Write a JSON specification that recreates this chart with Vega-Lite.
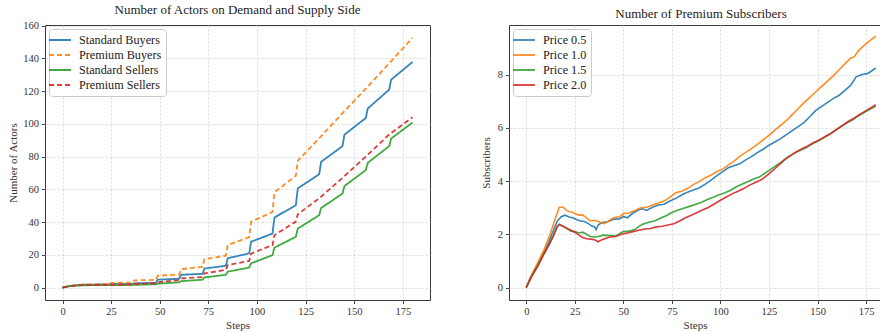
{
  "$schema": "https://vega.github.io/schema/vega-lite/v6.json",
  "padding": {"left": 7, "top": 3, "right": 0, "bottom": 0},
  "spacing": 48,
  "config": {
    "font": "Liberation Serif",
    "view": {"stroke": "#3a3a3a", "strokeWidth": 1},
    "title": {"font": "Liberation Serif", "fontSize": 13, "fontWeight": "normal", "color": "#222", "offset": 0},
    "axis": {
      "labelFont": "Liberation Serif", "labelFontSize": 10.5, "labelColor": "#333",
      "titleFont": "Liberation Serif", "titleFontSize": 11, "titleFontWeight": "normal", "titleColor": "#333",
      "domain": false, "tickColor": "#444", "tickSize": 3.5, "labelPadding": 3,
      "gridColor": "#cfcfcf", "gridDash": [2, 2], "gridWidth": 0.8
    },
    "legend": {
      "orient": "top-left", "offset": 4, "padding": 4, "strokeColor": "#cccccc", "fillColor": "white",
      "cornerRadius": 3, "symbolType": "M-1.83,0H1.83", "symbolSize": 144, "symbolStrokeWidth": 1.8,
      "labelFont": "Liberation Serif", "labelFontSize": 12.2,
      "labelColor": "#222", "rowPadding": 1, "title": null, "labelOffset": 12
    }
  },
  "datasets": {
    "actors": [
      {"series": "Standard Buyers", "step": 0, "value": 0},
      {"series": "Standard Buyers", "step": 3, "value": 0.8},
      {"series": "Standard Buyers", "step": 6, "value": 1.3},
      {"series": "Standard Buyers", "step": 10, "value": 1.7},
      {"series": "Standard Buyers", "step": 24, "value": 2.0},
      {"series": "Standard Buyers", "step": 25, "value": 2.2},
      {"series": "Standard Buyers", "step": 36, "value": 2.3},
      {"series": "Standard Buyers", "step": 37, "value": 2.6},
      {"series": "Standard Buyers", "step": 48, "value": 2.9},
      {"series": "Standard Buyers", "step": 49, "value": 4.8},
      {"series": "Standard Buyers", "step": 60, "value": 5.4},
      {"series": "Standard Buyers", "step": 61, "value": 7.8},
      {"series": "Standard Buyers", "step": 72, "value": 8.4},
      {"series": "Standard Buyers", "step": 73, "value": 11.6},
      {"series": "Standard Buyers", "step": 84, "value": 13.3},
      {"series": "Standard Buyers", "step": 85, "value": 17.9},
      {"series": "Standard Buyers", "step": 96, "value": 20.9},
      {"series": "Standard Buyers", "step": 97, "value": 28},
      {"series": "Standard Buyers", "step": 108, "value": 33},
      {"series": "Standard Buyers", "step": 109, "value": 42.8},
      {"series": "Standard Buyers", "step": 120, "value": 50.3},
      {"series": "Standard Buyers", "step": 121, "value": 60.6},
      {"series": "Standard Buyers", "step": 132, "value": 69.2},
      {"series": "Standard Buyers", "step": 133, "value": 76.8},
      {"series": "Standard Buyers", "step": 144, "value": 86.4},
      {"series": "Standard Buyers", "step": 145, "value": 93.4},
      {"series": "Standard Buyers", "step": 156, "value": 103.6},
      {"series": "Standard Buyers", "step": 157, "value": 109.4},
      {"series": "Standard Buyers", "step": 168, "value": 120.9},
      {"series": "Standard Buyers", "step": 169, "value": 127},
      {"series": "Standard Buyers", "step": 180, "value": 137.8},
      {"series": "Premium Buyers", "step": 0, "value": 0},
      {"series": "Premium Buyers", "step": 3, "value": 0.8},
      {"series": "Premium Buyers", "step": 6, "value": 1.3},
      {"series": "Premium Buyers", "step": 10, "value": 1.8},
      {"series": "Premium Buyers", "step": 24, "value": 2.1},
      {"series": "Premium Buyers", "step": 25, "value": 2.9},
      {"series": "Premium Buyers", "step": 36, "value": 3.0},
      {"series": "Premium Buyers", "step": 37, "value": 4.4},
      {"series": "Premium Buyers", "step": 48, "value": 4.7},
      {"series": "Premium Buyers", "step": 49, "value": 7.3},
      {"series": "Premium Buyers", "step": 60, "value": 7.8},
      {"series": "Premium Buyers", "step": 61, "value": 11.3},
      {"series": "Premium Buyers", "step": 72, "value": 12.6},
      {"series": "Premium Buyers", "step": 73, "value": 17.4},
      {"series": "Premium Buyers", "step": 84, "value": 19.5},
      {"series": "Premium Buyers", "step": 85, "value": 26},
      {"series": "Premium Buyers", "step": 96, "value": 30.8},
      {"series": "Premium Buyers", "step": 97, "value": 40.2},
      {"series": "Premium Buyers", "step": 108, "value": 46.2},
      {"series": "Premium Buyers", "step": 109, "value": 58.2},
      {"series": "Premium Buyers", "step": 120, "value": 68.3},
      {"series": "Premium Buyers", "step": 121, "value": 77.5},
      {"series": "Premium Buyers", "step": 132, "value": 91.2},
      {"series": "Premium Buyers", "step": 144, "value": 106.5},
      {"series": "Premium Buyers", "step": 156, "value": 121.5},
      {"series": "Premium Buyers", "step": 168, "value": 137},
      {"series": "Premium Buyers", "step": 180, "value": 152.5},
      {"series": "Standard Sellers", "step": 0, "value": 0},
      {"series": "Standard Sellers", "step": 3, "value": 0.7},
      {"series": "Standard Sellers", "step": 6, "value": 1.1},
      {"series": "Standard Sellers", "step": 10, "value": 1.4},
      {"series": "Standard Sellers", "step": 36, "value": 1.6},
      {"series": "Standard Sellers", "step": 48, "value": 2.0},
      {"series": "Standard Sellers", "step": 49, "value": 2.4},
      {"series": "Standard Sellers", "step": 60, "value": 3.2},
      {"series": "Standard Sellers", "step": 61, "value": 3.9},
      {"series": "Standard Sellers", "step": 72, "value": 4.8},
      {"series": "Standard Sellers", "step": 73, "value": 6.2},
      {"series": "Standard Sellers", "step": 84, "value": 7.8},
      {"series": "Standard Sellers", "step": 85, "value": 9.7},
      {"series": "Standard Sellers", "step": 96, "value": 12.2},
      {"series": "Standard Sellers", "step": 97, "value": 14.8},
      {"series": "Standard Sellers", "step": 108, "value": 19.8},
      {"series": "Standard Sellers", "step": 109, "value": 24.4},
      {"series": "Standard Sellers", "step": 120, "value": 31},
      {"series": "Standard Sellers", "step": 121, "value": 36},
      {"series": "Standard Sellers", "step": 132, "value": 44.2},
      {"series": "Standard Sellers", "step": 133, "value": 48.6},
      {"series": "Standard Sellers", "step": 144, "value": 57.4},
      {"series": "Standard Sellers", "step": 145, "value": 62},
      {"series": "Standard Sellers", "step": 156, "value": 71.8},
      {"series": "Standard Sellers", "step": 157, "value": 76.2},
      {"series": "Standard Sellers", "step": 168, "value": 86.4},
      {"series": "Standard Sellers", "step": 169, "value": 91},
      {"series": "Standard Sellers", "step": 180, "value": 100.8},
      {"series": "Premium Sellers", "step": 0, "value": 0},
      {"series": "Premium Sellers", "step": 3, "value": 0.7},
      {"series": "Premium Sellers", "step": 6, "value": 1.1},
      {"series": "Premium Sellers", "step": 10, "value": 1.5},
      {"series": "Premium Sellers", "step": 36, "value": 1.8},
      {"series": "Premium Sellers", "step": 37, "value": 2.2},
      {"series": "Premium Sellers", "step": 48, "value": 2.6},
      {"series": "Premium Sellers", "step": 49, "value": 3.2},
      {"series": "Premium Sellers", "step": 60, "value": 4.6},
      {"series": "Premium Sellers", "step": 61, "value": 5.6},
      {"series": "Premium Sellers", "step": 72, "value": 6.4},
      {"series": "Premium Sellers", "step": 73, "value": 8.7},
      {"series": "Premium Sellers", "step": 84, "value": 10.8},
      {"series": "Premium Sellers", "step": 85, "value": 13.7},
      {"series": "Premium Sellers", "step": 96, "value": 16.3},
      {"series": "Premium Sellers", "step": 97, "value": 20.7},
      {"series": "Premium Sellers", "step": 108, "value": 26},
      {"series": "Premium Sellers", "step": 109, "value": 32},
      {"series": "Premium Sellers", "step": 120, "value": 40.3},
      {"series": "Premium Sellers", "step": 121, "value": 44.8},
      {"series": "Premium Sellers", "step": 132, "value": 54.5},
      {"series": "Premium Sellers", "step": 144, "value": 67},
      {"series": "Premium Sellers", "step": 156, "value": 80},
      {"series": "Premium Sellers", "step": 168, "value": 93.5},
      {"series": "Premium Sellers", "step": 180, "value": 104}
    ],
    "subs": [
      {"series": "Price 0.5", "step": 0, "value": 0},
      {"series": "Price 0.5", "step": 2, "value": 0.35},
      {"series": "Price 0.5", "step": 5, "value": 0.75},
      {"series": "Price 0.5", "step": 8, "value": 1.15},
      {"series": "Price 0.5", "step": 11, "value": 1.6},
      {"series": "Price 0.5", "step": 14, "value": 2.15},
      {"series": "Price 0.5", "step": 16, "value": 2.5},
      {"series": "Price 0.5", "step": 18, "value": 2.66},
      {"series": "Price 0.5", "step": 20, "value": 2.72},
      {"series": "Price 0.5", "step": 22, "value": 2.65},
      {"series": "Price 0.5", "step": 24, "value": 2.62},
      {"series": "Price 0.5", "step": 26, "value": 2.55},
      {"series": "Price 0.5", "step": 28, "value": 2.5},
      {"series": "Price 0.5", "step": 30, "value": 2.48},
      {"series": "Price 0.5", "step": 32, "value": 2.4},
      {"series": "Price 0.5", "step": 34, "value": 2.3},
      {"series": "Price 0.5", "step": 35, "value": 2.29},
      {"series": "Price 0.5", "step": 36, "value": 2.18},
      {"series": "Price 0.5", "step": 37, "value": 2.35},
      {"series": "Price 0.5", "step": 39, "value": 2.44},
      {"series": "Price 0.5", "step": 42, "value": 2.47},
      {"series": "Price 0.5", "step": 45, "value": 2.57},
      {"series": "Price 0.5", "step": 48, "value": 2.58},
      {"series": "Price 0.5", "step": 50, "value": 2.67},
      {"series": "Price 0.5", "step": 52, "value": 2.62},
      {"series": "Price 0.5", "step": 55, "value": 2.8},
      {"series": "Price 0.5", "step": 58, "value": 2.92},
      {"series": "Price 0.5", "step": 60, "value": 2.96},
      {"series": "Price 0.5", "step": 62, "value": 2.9},
      {"series": "Price 0.5", "step": 65, "value": 3.02},
      {"series": "Price 0.5", "step": 68, "value": 3.1},
      {"series": "Price 0.5", "step": 71, "value": 3.13},
      {"series": "Price 0.5", "step": 74, "value": 3.25},
      {"series": "Price 0.5", "step": 77, "value": 3.35},
      {"series": "Price 0.5", "step": 80, "value": 3.48},
      {"series": "Price 0.5", "step": 83, "value": 3.58},
      {"series": "Price 0.5", "step": 86, "value": 3.67},
      {"series": "Price 0.5", "step": 89, "value": 3.74},
      {"series": "Price 0.5", "step": 92, "value": 3.88},
      {"series": "Price 0.5", "step": 95, "value": 4.03},
      {"series": "Price 0.5", "step": 98, "value": 4.2},
      {"series": "Price 0.5", "step": 101, "value": 4.35},
      {"series": "Price 0.5", "step": 104, "value": 4.5},
      {"series": "Price 0.5", "step": 107, "value": 4.58},
      {"series": "Price 0.5", "step": 110, "value": 4.65},
      {"series": "Price 0.5", "step": 113, "value": 4.8},
      {"series": "Price 0.5", "step": 116, "value": 4.92},
      {"series": "Price 0.5", "step": 119, "value": 5.07},
      {"series": "Price 0.5", "step": 122, "value": 5.2},
      {"series": "Price 0.5", "step": 125, "value": 5.35},
      {"series": "Price 0.5", "step": 128, "value": 5.47},
      {"series": "Price 0.5", "step": 131, "value": 5.6},
      {"series": "Price 0.5", "step": 134, "value": 5.75},
      {"series": "Price 0.5", "step": 137, "value": 5.9},
      {"series": "Price 0.5", "step": 140, "value": 6.05},
      {"series": "Price 0.5", "step": 143, "value": 6.2},
      {"series": "Price 0.5", "step": 146, "value": 6.42},
      {"series": "Price 0.5", "step": 149, "value": 6.65},
      {"series": "Price 0.5", "step": 152, "value": 6.8},
      {"series": "Price 0.5", "step": 155, "value": 6.95},
      {"series": "Price 0.5", "step": 158, "value": 7.1},
      {"series": "Price 0.5", "step": 161, "value": 7.22},
      {"series": "Price 0.5", "step": 164, "value": 7.4},
      {"series": "Price 0.5", "step": 167, "value": 7.6},
      {"series": "Price 0.5", "step": 170, "value": 7.93},
      {"series": "Price 0.5", "step": 173, "value": 8.01},
      {"series": "Price 0.5", "step": 176, "value": 8.05},
      {"series": "Price 0.5", "step": 178, "value": 8.15},
      {"series": "Price 0.5", "step": 180, "value": 8.25},
      {"series": "Price 1.0", "step": 0, "value": 0},
      {"series": "Price 1.0", "step": 3, "value": 0.5},
      {"series": "Price 1.0", "step": 6, "value": 0.95},
      {"series": "Price 1.0", "step": 9, "value": 1.4},
      {"series": "Price 1.0", "step": 12, "value": 1.95},
      {"series": "Price 1.0", "step": 15, "value": 2.6},
      {"series": "Price 1.0", "step": 17, "value": 3.02},
      {"series": "Price 1.0", "step": 19, "value": 3.02},
      {"series": "Price 1.0", "step": 21, "value": 2.88},
      {"series": "Price 1.0", "step": 24, "value": 2.82},
      {"series": "Price 1.0", "step": 27, "value": 2.72},
      {"series": "Price 1.0", "step": 29, "value": 2.73},
      {"series": "Price 1.0", "step": 31, "value": 2.62},
      {"series": "Price 1.0", "step": 33, "value": 2.5},
      {"series": "Price 1.0", "step": 35, "value": 2.53},
      {"series": "Price 1.0", "step": 37, "value": 2.48},
      {"series": "Price 1.0", "step": 40, "value": 2.4},
      {"series": "Price 1.0", "step": 42, "value": 2.48},
      {"series": "Price 1.0", "step": 45, "value": 2.62},
      {"series": "Price 1.0", "step": 48, "value": 2.66},
      {"series": "Price 1.0", "step": 50, "value": 2.78},
      {"series": "Price 1.0", "step": 53, "value": 2.8},
      {"series": "Price 1.0", "step": 56, "value": 2.9},
      {"series": "Price 1.0", "step": 59, "value": 3.0},
      {"series": "Price 1.0", "step": 62, "value": 3.02},
      {"series": "Price 1.0", "step": 65, "value": 3.1},
      {"series": "Price 1.0", "step": 68, "value": 3.18},
      {"series": "Price 1.0", "step": 71, "value": 3.25},
      {"series": "Price 1.0", "step": 74, "value": 3.4},
      {"series": "Price 1.0", "step": 77, "value": 3.56},
      {"series": "Price 1.0", "step": 80, "value": 3.62},
      {"series": "Price 1.0", "step": 83, "value": 3.72},
      {"series": "Price 1.0", "step": 86, "value": 3.87},
      {"series": "Price 1.0", "step": 89, "value": 3.98},
      {"series": "Price 1.0", "step": 92, "value": 4.12},
      {"series": "Price 1.0", "step": 95, "value": 4.22},
      {"series": "Price 1.0", "step": 98, "value": 4.35},
      {"series": "Price 1.0", "step": 101, "value": 4.45},
      {"series": "Price 1.0", "step": 104, "value": 4.6},
      {"series": "Price 1.0", "step": 107, "value": 4.75},
      {"series": "Price 1.0", "step": 110, "value": 4.93},
      {"series": "Price 1.0", "step": 113, "value": 5.08},
      {"series": "Price 1.0", "step": 116, "value": 5.22},
      {"series": "Price 1.0", "step": 119, "value": 5.38},
      {"series": "Price 1.0", "step": 122, "value": 5.55},
      {"series": "Price 1.0", "step": 125, "value": 5.72},
      {"series": "Price 1.0", "step": 128, "value": 5.92},
      {"series": "Price 1.0", "step": 131, "value": 6.1},
      {"series": "Price 1.0", "step": 134, "value": 6.28},
      {"series": "Price 1.0", "step": 137, "value": 6.5},
      {"series": "Price 1.0", "step": 140, "value": 6.72},
      {"series": "Price 1.0", "step": 143, "value": 6.95},
      {"series": "Price 1.0", "step": 146, "value": 7.15},
      {"series": "Price 1.0", "step": 149, "value": 7.35},
      {"series": "Price 1.0", "step": 152, "value": 7.55},
      {"series": "Price 1.0", "step": 155, "value": 7.75},
      {"series": "Price 1.0", "step": 158, "value": 7.95},
      {"series": "Price 1.0", "step": 161, "value": 8.18},
      {"series": "Price 1.0", "step": 164, "value": 8.4},
      {"series": "Price 1.0", "step": 167, "value": 8.62},
      {"series": "Price 1.0", "step": 169, "value": 8.68},
      {"series": "Price 1.0", "step": 171, "value": 8.9},
      {"series": "Price 1.0", "step": 174, "value": 9.1},
      {"series": "Price 1.0", "step": 177, "value": 9.28},
      {"series": "Price 1.0", "step": 180, "value": 9.45},
      {"series": "Price 1.5", "step": 0, "value": 0},
      {"series": "Price 1.5", "step": 3, "value": 0.45},
      {"series": "Price 1.5", "step": 6, "value": 0.85},
      {"series": "Price 1.5", "step": 9, "value": 1.25},
      {"series": "Price 1.5", "step": 12, "value": 1.65},
      {"series": "Price 1.5", "step": 14, "value": 1.95},
      {"series": "Price 1.5", "step": 16, "value": 2.3},
      {"series": "Price 1.5", "step": 17, "value": 2.36},
      {"series": "Price 1.5", "step": 19, "value": 2.3},
      {"series": "Price 1.5", "step": 21, "value": 2.22},
      {"series": "Price 1.5", "step": 23, "value": 2.12},
      {"series": "Price 1.5", "step": 25, "value": 2.1},
      {"series": "Price 1.5", "step": 27, "value": 2.05},
      {"series": "Price 1.5", "step": 29, "value": 2.08},
      {"series": "Price 1.5", "step": 31, "value": 2.0},
      {"series": "Price 1.5", "step": 33, "value": 1.92},
      {"series": "Price 1.5", "step": 35, "value": 1.9},
      {"series": "Price 1.5", "step": 37, "value": 1.92},
      {"series": "Price 1.5", "step": 40, "value": 1.97},
      {"series": "Price 1.5", "step": 43, "value": 1.95},
      {"series": "Price 1.5", "step": 46, "value": 1.93},
      {"series": "Price 1.5", "step": 48, "value": 2.02},
      {"series": "Price 1.5", "step": 50, "value": 2.1},
      {"series": "Price 1.5", "step": 53, "value": 2.12},
      {"series": "Price 1.5", "step": 56, "value": 2.18},
      {"series": "Price 1.5", "step": 58, "value": 2.3},
      {"series": "Price 1.5", "step": 60, "value": 2.38},
      {"series": "Price 1.5", "step": 63, "value": 2.45},
      {"series": "Price 1.5", "step": 66, "value": 2.5},
      {"series": "Price 1.5", "step": 69, "value": 2.6},
      {"series": "Price 1.5", "step": 72, "value": 2.7},
      {"series": "Price 1.5", "step": 75, "value": 2.82},
      {"series": "Price 1.5", "step": 78, "value": 2.9},
      {"series": "Price 1.5", "step": 81, "value": 2.98},
      {"series": "Price 1.5", "step": 84, "value": 3.05},
      {"series": "Price 1.5", "step": 87, "value": 3.12},
      {"series": "Price 1.5", "step": 90, "value": 3.2},
      {"series": "Price 1.5", "step": 93, "value": 3.3},
      {"series": "Price 1.5", "step": 96, "value": 3.38},
      {"series": "Price 1.5", "step": 99, "value": 3.48},
      {"series": "Price 1.5", "step": 102, "value": 3.55},
      {"series": "Price 1.5", "step": 105, "value": 3.65},
      {"series": "Price 1.5", "step": 108, "value": 3.78},
      {"series": "Price 1.5", "step": 111, "value": 3.88},
      {"series": "Price 1.5", "step": 114, "value": 3.98},
      {"series": "Price 1.5", "step": 117, "value": 4.08},
      {"series": "Price 1.5", "step": 120, "value": 4.15},
      {"series": "Price 1.5", "step": 123, "value": 4.3},
      {"series": "Price 1.5", "step": 126, "value": 4.45},
      {"series": "Price 1.5", "step": 129, "value": 4.6},
      {"series": "Price 1.5", "step": 132, "value": 4.75},
      {"series": "Price 1.5", "step": 135, "value": 4.92},
      {"series": "Price 1.5", "step": 138, "value": 5.05},
      {"series": "Price 1.5", "step": 141, "value": 5.15},
      {"series": "Price 1.5", "step": 144, "value": 5.25},
      {"series": "Price 1.5", "step": 147, "value": 5.38},
      {"series": "Price 1.5", "step": 150, "value": 5.5},
      {"series": "Price 1.5", "step": 153, "value": 5.62},
      {"series": "Price 1.5", "step": 156, "value": 5.75},
      {"series": "Price 1.5", "step": 159, "value": 5.9},
      {"series": "Price 1.5", "step": 162, "value": 6.05},
      {"series": "Price 1.5", "step": 165, "value": 6.18},
      {"series": "Price 1.5", "step": 168, "value": 6.3},
      {"series": "Price 1.5", "step": 171, "value": 6.45},
      {"series": "Price 1.5", "step": 174, "value": 6.58},
      {"series": "Price 1.5", "step": 177, "value": 6.7},
      {"series": "Price 1.5", "step": 180, "value": 6.82},
      {"series": "Price 2.0", "step": 0, "value": 0},
      {"series": "Price 2.0", "step": 3, "value": 0.45},
      {"series": "Price 2.0", "step": 6, "value": 0.8},
      {"series": "Price 2.0", "step": 9, "value": 1.25},
      {"series": "Price 2.0", "step": 12, "value": 1.65},
      {"series": "Price 2.0", "step": 14, "value": 1.95},
      {"series": "Price 2.0", "step": 16, "value": 2.3},
      {"series": "Price 2.0", "step": 17, "value": 2.38},
      {"series": "Price 2.0", "step": 19, "value": 2.3},
      {"series": "Price 2.0", "step": 21, "value": 2.22},
      {"series": "Price 2.0", "step": 23, "value": 2.15},
      {"series": "Price 2.0", "step": 25, "value": 2.08},
      {"series": "Price 2.0", "step": 27, "value": 1.98},
      {"series": "Price 2.0", "step": 29, "value": 1.88},
      {"series": "Price 2.0", "step": 31, "value": 1.83},
      {"series": "Price 2.0", "step": 33, "value": 1.82},
      {"series": "Price 2.0", "step": 35, "value": 1.8},
      {"series": "Price 2.0", "step": 37, "value": 1.72},
      {"series": "Price 2.0", "step": 39, "value": 1.8},
      {"series": "Price 2.0", "step": 41, "value": 1.85},
      {"series": "Price 2.0", "step": 43, "value": 1.9},
      {"series": "Price 2.0", "step": 46, "value": 1.92},
      {"series": "Price 2.0", "step": 49, "value": 2.0},
      {"series": "Price 2.0", "step": 52, "value": 2.05},
      {"series": "Price 2.0", "step": 55, "value": 2.1},
      {"series": "Price 2.0", "step": 58, "value": 2.15},
      {"series": "Price 2.0", "step": 61, "value": 2.2},
      {"series": "Price 2.0", "step": 64, "value": 2.22},
      {"series": "Price 2.0", "step": 67, "value": 2.28},
      {"series": "Price 2.0", "step": 70, "value": 2.3},
      {"series": "Price 2.0", "step": 73, "value": 2.35},
      {"series": "Price 2.0", "step": 76, "value": 2.4},
      {"series": "Price 2.0", "step": 79, "value": 2.5},
      {"series": "Price 2.0", "step": 82, "value": 2.62},
      {"series": "Price 2.0", "step": 85, "value": 2.72},
      {"series": "Price 2.0", "step": 88, "value": 2.82},
      {"series": "Price 2.0", "step": 91, "value": 2.92},
      {"series": "Price 2.0", "step": 94, "value": 3.02},
      {"series": "Price 2.0", "step": 97, "value": 3.15},
      {"series": "Price 2.0", "step": 100, "value": 3.28},
      {"series": "Price 2.0", "step": 103, "value": 3.4},
      {"series": "Price 2.0", "step": 106, "value": 3.52},
      {"series": "Price 2.0", "step": 109, "value": 3.62},
      {"series": "Price 2.0", "step": 112, "value": 3.72},
      {"series": "Price 2.0", "step": 115, "value": 3.85},
      {"series": "Price 2.0", "step": 118, "value": 3.95},
      {"series": "Price 2.0", "step": 121, "value": 4.05},
      {"series": "Price 2.0", "step": 124, "value": 4.22},
      {"series": "Price 2.0", "step": 127, "value": 4.4},
      {"series": "Price 2.0", "step": 130, "value": 4.6},
      {"series": "Price 2.0", "step": 133, "value": 4.8},
      {"series": "Price 2.0", "step": 136, "value": 4.95},
      {"series": "Price 2.0", "step": 139, "value": 5.1},
      {"series": "Price 2.0", "step": 142, "value": 5.22},
      {"series": "Price 2.0", "step": 145, "value": 5.32},
      {"series": "Price 2.0", "step": 148, "value": 5.45},
      {"series": "Price 2.0", "step": 151, "value": 5.55},
      {"series": "Price 2.0", "step": 154, "value": 5.68},
      {"series": "Price 2.0", "step": 157, "value": 5.8},
      {"series": "Price 2.0", "step": 160, "value": 5.95},
      {"series": "Price 2.0", "step": 163, "value": 6.1},
      {"series": "Price 2.0", "step": 166, "value": 6.25},
      {"series": "Price 2.0", "step": 169, "value": 6.38},
      {"series": "Price 2.0", "step": 172, "value": 6.52},
      {"series": "Price 2.0", "step": 175, "value": 6.65},
      {"series": "Price 2.0", "step": 178, "value": 6.78},
      {"series": "Price 2.0", "step": 180, "value": 6.87}
    ]
  },
  "hconcat": [
    {
      "width": 385,
      "height": 275,
      "title": "Number of Actors on Demand and Supply Side",
      "data": {"name": "actors"},
      "mark": {"type": "line", "strokeWidth": 1.8, "clip": true, "opacity": 0.9},
      "encoding": {
        "x": {"field": "step", "type": "quantitative", "scale": {"domain": [-9, 189], "nice": false, "zero": false},
              "axis": {"values": [0, 25, 50, 75, 100, 125, 150, 175], "title": "Steps", "titlePadding": 2}},
        "y": {"field": "value", "type": "quantitative", "scale": {"domain": [-7.6, 160.4], "nice": false, "zero": false},
              "axis": {"values": [0, 20, 40, 60, 80, 100, 120, 140, 160], "title": "Number of Actors", "titlePadding": 4}},
        "color": {"field": "series", "type": "nominal",
                  "scale": {"domain": ["Standard Buyers", "Premium Buyers", "Standard Sellers", "Premium Sellers"],
                            "range": ["#1f77b4", "#ff7f0e", "#2ca02c", "#d62728"]}},
        "strokeDash": {"field": "series", "type": "nominal",
                       "scale": {"domain": ["Standard Buyers", "Premium Buyers", "Standard Sellers", "Premium Sellers"],
                                 "range": [[1, 0], [5, 3], [1, 0], [5, 3]]}}
      }
    },
    {
      "width": 372,
      "height": 275,
      "title": {"text": "Number of Premium Subscribers", "dx": 6},
      "data": {"name": "subs"},
      "mark": {"type": "line", "strokeWidth": 1.6, "clip": true, "opacity": 0.9},
      "encoding": {
        "x": {"field": "step", "type": "quantitative", "scale": {"domain": [-8.9, 182.7], "nice": false, "zero": false},
              "axis": {"values": [0, 25, 50, 75, 100, 125, 150, 175], "title": "Steps", "titlePadding": 2}},
        "y": {"field": "value", "type": "quantitative", "scale": {"domain": [-0.47, 9.87], "nice": false, "zero": false},
              "axis": {"values": [0, 2, 4, 6, 8], "title": "Subscribers", "titlePadding": 6}},
        "color": {"field": "series", "type": "nominal",
                  "scale": {"domain": ["Price 0.5", "Price 1.0", "Price 1.5", "Price 2.0"],
                            "range": ["#1f77b4", "#ff7f0e", "#2ca02c", "#d62728"]}}
      }
    }
  ],
  "resolve": {"scale": {"color": "independent", "strokeDash": "independent"}, "legend": {"color": "independent", "strokeDash": "independent"}}
}
